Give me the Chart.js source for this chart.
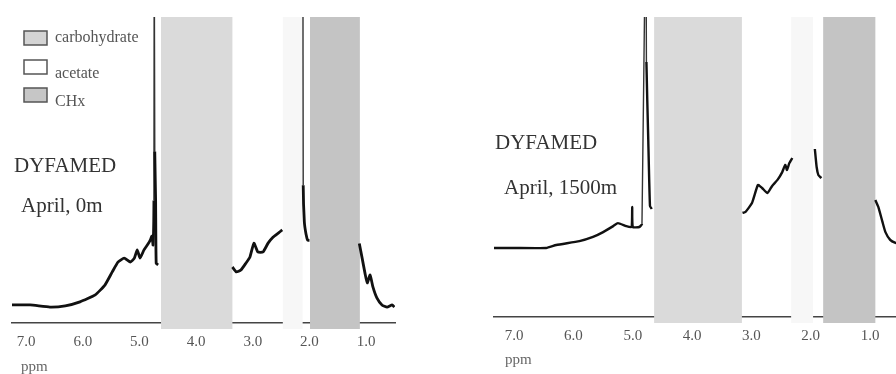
<!DOCTYPE html>
<html>
<head>
<meta charset="utf-8">
<script src="https://cdn.jsdelivr.net/npm/chart.js@4/dist/chart.umd.min.js"></script>
<style>
  html, body { margin: 0; padding: 0; background: #fff; overflow: hidden; }
  #wrap { position: relative; width: 896px; height: 374px; overflow: hidden; }
  #leftChart { position: absolute; left: 0; top: 0; }
  #rightChart { position: absolute; left: 446px; top: 0; }
</style>
</head>
<body>
<div id="wrap">
  <canvas id="leftChart" width="448" height="374"></canvas>
  <canvas id="rightChart" width="480" height="374"></canvas>
</div>
<script>
// tick labels on the chemical shift axis (ppm)
const ppmTicks = [7, 6, 5, 4, 3, 2, 1];

// shaded regions
const bandNames = ['carbohydrate', 'acetate', 'CHx'];
const leftBands = [[4.62, 3.36], [2.47, 2.12], [1.99, 1.11]];
const rightBands = [[4.64, 3.16], [2.33, 1.96], [1.79, 0.91]];

// April, 0m spectrum (null = gap)
const leftPpm = [7.25, 6.93, 6.58, 6.31, 6.05, 5.78, 5.61, 5.48, 5.38, 5.27, 5.16, 5.09, 5.04, 4.99, 4.92, 4.85, 4.81, 4.78, 4.76, 4.745, 4.74, 4.73, 4.715, 4.705, 4.67,
  4.0,
  3.36, 3.29, 3.21, 3.12, 3.05, 2.98, 2.91, 2.82, 2.73, 2.64, 2.55, 2.48,
  2.3,
  2.115, 2.11, 2.09, 2.06, 2.03, 2.0,
  1.5,
  1.12, 1.07, 1.02, 0.98, 0.93, 0.88, 0.81, 0.72, 0.63, 0.54, 0.5];
const leftIntensity = [5.9, 5.9, 5.2, 5.6, 6.9, 9.2, 12.4, 16.7, 19.9, 21.2, 19.9, 21.2, 23.9, 21.2, 23.9, 25.8, 27.1, 28.4, 25.5, 40, 130, 56, 40, 19.5, 19,
  null,
  18.3, 16.7, 17.3, 19.6, 21.6, 26.1, 23.2, 23.2, 26.1, 28.1, 29.4, 30.4,
  null,
  130, 45, 33, 29, 27, 27,
  null,
  26, 21.2, 16.3, 13.1, 15.7, 11.8, 8.2, 5.9, 5.2, 5.9, 5.2];

// April, 1500m spectrum (null = gap)
const rightPpm = [7.34, 7.02, 6.46, 6.29, 5.9, 5.67, 5.5, 5.33, 5.25, 5.11, 5.02, 5.01, 5.0, 4.89, 4.845, 4.78, 4.77, 4.74, 4.71, 4.68,
  4.0,
  3.15, 3.1, 2.99, 2.89, 2.82, 2.73, 2.65, 2.56, 2.48, 2.43, 2.4, 2.36, 2.31,
  2.1,
  1.93, 1.9, 1.87, 1.82,
  1.3,
  0.91, 0.86, 0.79, 0.74, 0.66, 0.57, 0.48, 0.41];
const rightIntensity = [23, 23, 23, 24, 25.3, 26.7, 28.3, 30.3, 31.3, 30.3, 30, 36.7, 30, 30, 31, 140, 85, 60, 37, 36,
  null,
  34.7, 35, 38, 44, 43, 41.3, 43.7, 45.7, 48.3, 50.7, 49, 51.3, 53,
  null,
  56, 50, 47.3, 46.3,
  null,
  39, 36.7, 31.7, 28.3, 25.7, 24.7, 24.3, 24];

const bandColors = ['#dadada', '#f7f7f7', '#c4c4c4'];
const legendColors = ['#d4d4d4', '#ffffff', '#c6c6c6'];
const serif = '"Liberation Serif", "DejaVu Serif", serif';

// draws the shaded ppm regions over the axis line, under the spectrum
const bandPlugin = {
  id: 'bands',
  beforeDatasetsDraw(chart, args, opts) {
    const ctx = chart.ctx;
    const area = chart.chartArea;
    const xs = chart.scales.x;
    const base = chart.scales.y.getPixelForValue(0);
    ctx.save();
    opts.ranges.forEach((r, i) => {
      const a = xs.getPixelForValue(r[0]);
      const b = xs.getPixelForValue(r[1]);
      ctx.fillStyle = bandColors[i];
      ctx.fillRect(Math.min(a, b), area.top, Math.abs(b - a), base + 6 - area.top);
    });
    ctx.restore();
  }
};

// station labels, axis unit and the legend box
const notesPlugin = {
  id: 'notes',
  afterDraw(chart, args, opts) {
    const ctx = chart.ctx;
    ctx.save();
    ctx.textAlign = 'left';
    ctx.textBaseline = 'middle';
    opts.items.forEach(t => {
      ctx.font = t.size + 'px ' + serif;
      ctx.fillStyle = t.color;
      ctx.fillText(t.text, t.x, t.y);
    });
    if (opts.legend) {
      const boxY = [31, 60, 88];
      const textY = [38, 74, 102];
      bandNames.forEach((name, i) => {
        ctx.fillStyle = legendColors[i];
        ctx.fillRect(24, boxY[i], 23, 14);
        ctx.strokeStyle = '#555';
        ctx.lineWidth = 1.5;
        ctx.strokeRect(24, boxY[i], 23, 14);
        ctx.font = '16px ' + serif;
        ctx.fillStyle = '#555';
        ctx.fillText(name, 55, textY[i]);
      });
    }
    ctx.restore();
  }
};

function makeChart(id, ppm, intensity, bands, cfg) {
  const points = ppm.map((p, i) => ({ x: p, y: intensity[i] }));
  return new Chart(document.getElementById(id), {
    type: 'line',
    data: {
      datasets: [{
        data: points,
        borderColor: '#111',
        borderWidth: cfg.lineWidth,
        pointRadius: 0,
        tension: 0.15,
        spanGaps: false,
        // tall narrow peaks are drawn with a thinner pen
        segment: {
          borderWidth: c => (c.p0.parsed.y > 100 || c.p1.parsed.y > 100) ? 1.4 : cfg.lineWidth,
          borderColor: c => (c.p0.parsed.y > 100 || c.p1.parsed.y > 100) ? '#333' : '#111'
        }
      }]
    },
    options: {
      responsive: false,
      animation: false,
      events: [],
      layout: { padding: cfg.padding },
      plugins: {
        legend: { display: false },
        tooltip: { enabled: false },
        bands: { ranges: bands },
        notes: { items: cfg.notes, legend: cfg.legend }
      },
      scales: {
        x: {
          type: 'linear',
          reverse: true,
          min: cfg.min,
          max: cfg.max,
          afterBuildTicks: s => { s.ticks = ppmTicks.map(v => ({ value: v })); },
          afterFit: s => { s.height = cfg.axisHeight; },
          grid: { display: false, drawTicks: false },
          border: { display: true, color: '#444', width: 1.5, dash: [2, 1.5] },
          ticks: {
            padding: 10,
            color: '#555',
            autoSkip: false,
            maxRotation: 0,
            font: { family: serif, size: 15 },
            callback: v => Number(v).toFixed(1)
          }
        },
        y: { display: false, min: 0, max: 100 }
      }
    },
    plugins: [bandPlugin, notesPlugin]
  });
}

makeChart('leftChart', leftPpm, leftIntensity, leftBands, {
  min: 0.49, max: 7.25,
  padding: { left: 12, right: 53, top: 17, bottom: 0 },
  axisHeight: 51,
  lineWidth: 2.8,
  legend: true,
  notes: [
    { text: 'DYFAMED', x: 14, y: 166, size: 21, color: '#333' },
    { text: 'April, 0m', x: 21, y: 206, size: 21, color: '#333' },
    { text: 'ppm', x: 21, y: 367, size: 15, color: '#666' }
  ]
});

makeChart('rightChart', rightPpm, rightIntensity, rightBands, {
  min: 0.41, max: 7.34,
  padding: { left: 48, right: 21, top: 17, bottom: 0 },
  axisHeight: 57,
  lineWidth: 2.4,
  legend: false,
  notes: [
    { text: 'DYFAMED', x: 49, y: 143, size: 21, color: '#333' },
    { text: 'April, 1500m', x: 58, y: 188, size: 21, color: '#333' },
    { text: 'ppm', x: 59, y: 360, size: 15, color: '#666' }
  ]
});
</script>
</body>
</html>
